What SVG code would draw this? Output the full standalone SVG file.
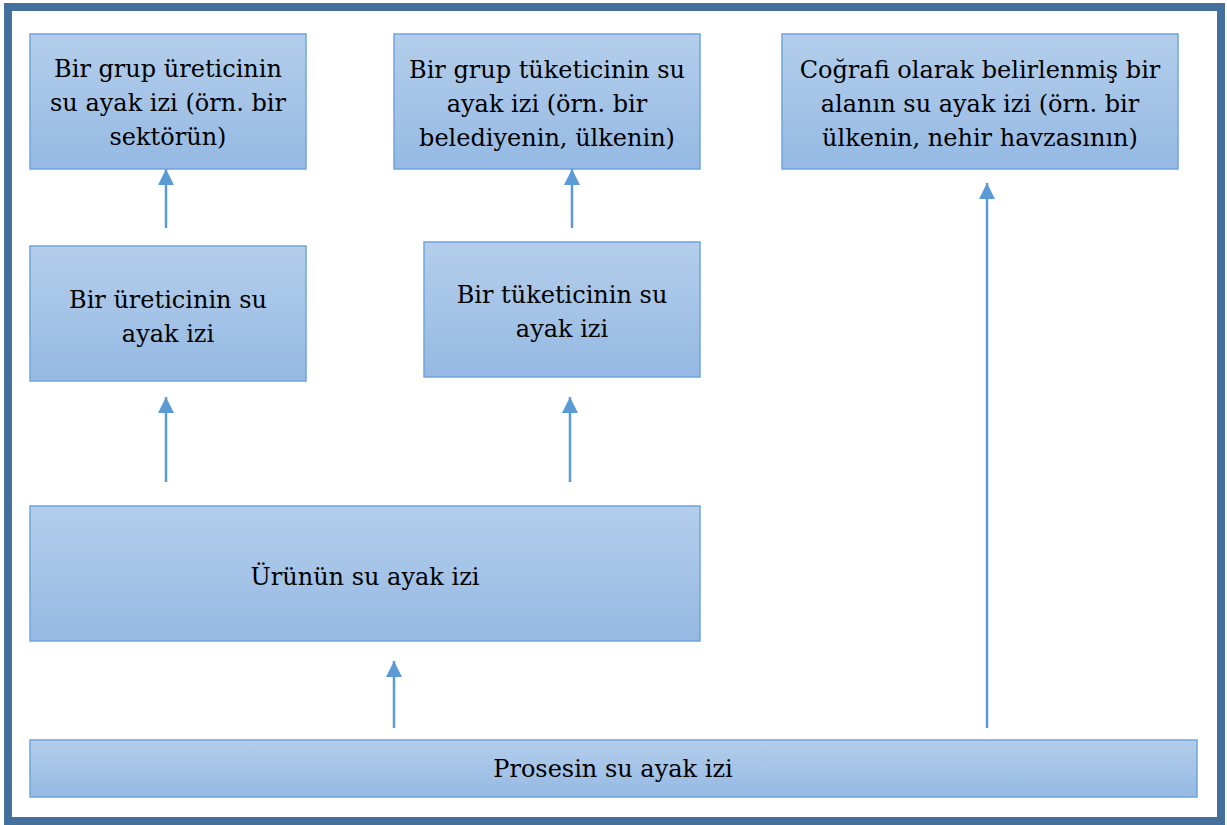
<svg xmlns="http://www.w3.org/2000/svg" width="1227" height="825" viewBox="0 0 1227 825">
<style>
.box{fill:url(#g);stroke:#6fa5dc;stroke-width:1.5}
.t{font-family:'DejaVu Serif',serif;font-size:24px;fill:#000;text-anchor:middle}
.c{stroke:#5b9bd5;stroke-width:2.5;fill:none;marker-end:url(#ah)}
</style>
<defs>
<linearGradient id="g" x1="0" y1="0" x2="0" y2="1">
<stop offset="0" stop-color="#b4ceeb"/>
<stop offset="1" stop-color="#95b9e3"/>
</linearGradient>
<marker id="ah" viewBox="0 0 16 16" refX="16" refY="8" markerWidth="16" markerHeight="16" markerUnits="userSpaceOnUse" orient="auto">
<path d="M0,0 L16,8 L0,16 Z" fill="#5b9bd5"/>
</marker>
</defs>
<rect x="0" y="0" width="1227" height="825" fill="#fff"/>
<rect x="8" y="7" width="1213" height="814" fill="none" stroke="#44709e" stroke-width="8"/>
<g id="connectors">
<line class="c" x1="166" y1="228" x2="166" y2="169"/>
<line class="c" x1="572" y1="228" x2="572" y2="169"/>
<line class="c" x1="166" y1="482" x2="166" y2="397"/>
<line class="c" x1="570" y1="482" x2="570" y2="397"/>
<line class="c" x1="394" y1="728" x2="394" y2="661"/>
<line class="c" x1="987" y1="728" x2="987" y2="183"/>
</g>
<g id="n1"><rect class="box" x="30" y="34" width="276" height="135"/>
<text class="t" x="168" y="77">Bir grup üreticinin</text>
<text class="t" x="168" y="111">su ayak izi (örn. bir</text>
<text class="t" x="168" y="145">sektörün)</text></g>
<g id="n2"><rect class="box" x="394" y="34" width="306" height="135"/>
<text class="t" x="547" y="78">Bir grup tüketicinin su</text>
<text class="t" x="547" y="112">ayak izi (örn. bir</text>
<text class="t" x="547" y="146">belediyenin, ülkenin)</text></g>
<g id="n3"><rect class="box" x="782" y="34" width="396" height="135"/>
<text class="t" x="980" y="78">Coğrafi olarak belirlenmiş bir</text>
<text class="t" x="980" y="112">alanın su ayak izi (örn. bir</text>
<text class="t" x="980" y="146">ülkenin, nehir havzasının)</text></g>
<g id="n4"><rect class="box" x="30" y="246" width="276" height="135"/>
<text class="t" x="168" y="308">Bir üreticinin su</text>
<text class="t" x="168" y="342">ayak izi</text></g>
<g id="n5"><rect class="box" x="424" y="242" width="276" height="135"/>
<text class="t" x="562" y="303">Bir tüketicinin su</text>
<text class="t" x="562" y="337">ayak izi</text></g>
<g id="n6"><rect class="box" x="30" y="506" width="670" height="135"/>
<text class="t" x="365" y="585">Ürünün su ayak izi</text></g>
<g id="n7"><rect class="box" x="30" y="740" width="1167" height="57"/>
<text class="t" x="613" y="777">Prosesin su ayak izi</text></g>
</svg>
